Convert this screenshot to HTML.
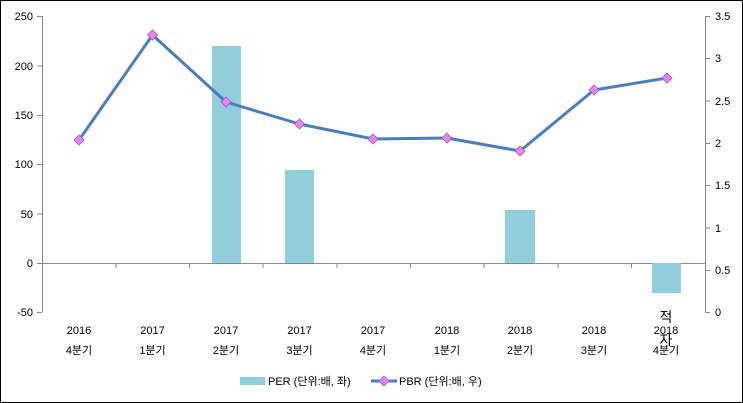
<!DOCTYPE html><html><head><style>body{margin:0;background:#fff}svg{display:block;font-family:"Liberation Sans","Noto Sans CJK KR",sans-serif}</style></head><body>
<svg width="743" height="403" viewBox="0 0 743 403">
<rect x="0.5" y="0.5" width="742" height="402" fill="#fff" stroke="#000"/>
<g stroke="#888" stroke-width="1">
<line x1="42.5" y1="16" x2="42.5" y2="312"/>
<line x1="705.5" y1="16" x2="705.5" y2="312"/>
<line x1="42" y1="263.5" x2="705" y2="263.5"/>
<line x1="37" y1="16.5" x2="42" y2="16.5"/><line x1="37" y1="66" x2="42" y2="66"/><line x1="37" y1="115.5" x2="42" y2="115.5"/><line x1="37" y1="164.5" x2="42" y2="164.5"/><line x1="37" y1="214" x2="42" y2="214"/><line x1="37" y1="263.5" x2="42" y2="263.5"/><line x1="37" y1="312.5" x2="42" y2="312.5"/>
<line x1="705" y1="16.5" x2="710" y2="16.5"/><line x1="705" y1="58.5" x2="710" y2="58.5"/><line x1="705" y1="101" x2="710" y2="101"/><line x1="705" y1="143.5" x2="710" y2="143.5"/><line x1="705" y1="185.5" x2="710" y2="185.5"/><line x1="705" y1="228" x2="710" y2="228"/><line x1="705" y1="270.5" x2="710" y2="270.5"/><line x1="705" y1="312.5" x2="710" y2="312.5"/>
<line x1="116" y1="263" x2="116" y2="268"/><line x1="189.5" y1="263" x2="189.5" y2="268"/><line x1="263" y1="263" x2="263" y2="268"/><line x1="337" y1="263" x2="337" y2="268"/><line x1="410.5" y1="263" x2="410.5" y2="268"/><line x1="484" y1="263" x2="484" y2="268"/><line x1="558" y1="263" x2="558" y2="268"/><line x1="631.5" y1="263" x2="631.5" y2="268"/>
</g>
<g fill="#92cddc">
<rect x="212" y="46" width="29" height="217"/>
<rect x="285" y="170" width="29" height="93"/>
<rect x="505" y="210" width="30" height="53"/>
<rect x="652" y="263" width="29" height="30"/>
</g>
<polyline fill="none" stroke="#4a7ebb" stroke-width="3" stroke-linejoin="round" points="79,140 152.5,35 226,102 299.5,124 373,139 447,138 520,151 594,90 667,78"/>
<g fill="#ee82ee" stroke="#9b59d0" stroke-width="0.8">
<path d="M79,135l5,5l-5,5l-5,-5z"/><path d="M152.5,30l5,5l-5,5l-5,-5z"/><path d="M226,97l5,5l-5,5l-5,-5z"/><path d="M299.5,119l5,5l-5,5l-5,-5z"/><path d="M373,134l5,5l-5,5l-5,-5z"/><path d="M447,133l5,5l-5,5l-5,-5z"/><path d="M520,146l5,5l-5,5l-5,-5z"/><path d="M594,85l5,5l-5,5l-5,-5z"/><path d="M667,73l5,5l-5,5l-5,-5z"/>
</g>
<g font-size="11" fill="#000" text-anchor="end">
<text x="33" y="20">250</text><text x="33" y="70">200</text><text x="33" y="119">150</text><text x="33" y="168">100</text><text x="33" y="218">50</text><text x="33" y="267">0</text><text x="33" y="316">-50</text>
</g>
<g font-size="11" fill="#000" text-anchor="start">
<text x="715" y="20">3.5</text><text x="715" y="62">3</text><text x="715" y="105">2.5</text><text x="715" y="147">2</text><text x="715" y="189">1.5</text><text x="715" y="232">1</text><text x="715" y="274">0.5</text><text x="715" y="316">0</text>
</g>
<g font-size="11" fill="#000" text-anchor="middle">
<text x="79" y="334">2016</text><text x="79" y="354">4분기</text>
<text x="152.5" y="334">2017</text><text x="152.5" y="354">1분기</text>
<text x="226" y="334">2017</text><text x="226" y="354">2분기</text>
<text x="299.5" y="334">2017</text><text x="299.5" y="354">3분기</text>
<text x="373" y="334">2017</text><text x="373" y="354">4분기</text>
<text x="447" y="334">2018</text><text x="447" y="354">1분기</text>
<text x="520" y="334">2018</text><text x="520" y="354">2분기</text>
<text x="594" y="334">2018</text><text x="594" y="354">3분기</text>
<text x="666" y="334">2018</text><text x="666" y="354">4분기</text>
<text x="666" y="322" font-size="14">적</text><text x="666" y="345" font-size="14">자</text>
</g>
<rect x="240" y="377" width="25" height="8" fill="#92cddc"/>
<text x="268" y="385" font-size="11">PER (단위:배, 좌)</text>
<line x1="371" y1="381" x2="397" y2="381" stroke="#4a7ebb" stroke-width="3"/>
<path d="M384,376l5,5l-5,5l-5,-5z" fill="#ee82ee" stroke="#9b59d0" stroke-width="0.8"/>
<text x="399" y="385" font-size="11">PBR (단위:배, 우)</text>
</svg>
</body></html>
